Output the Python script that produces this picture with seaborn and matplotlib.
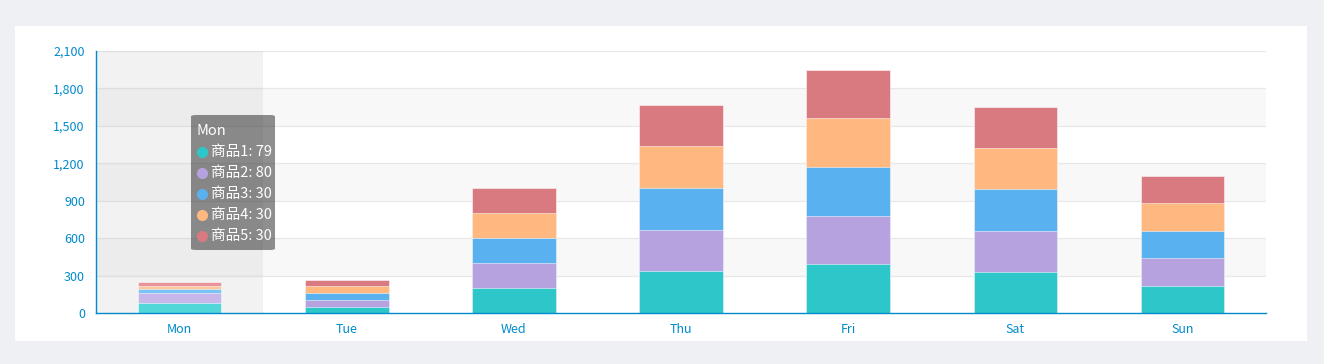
import numpy as np
import pandas as pd
import matplotlib
matplotlib.use("Agg")
import matplotlib.pyplot as plt
from matplotlib.patches import FancyBboxPatch, Rectangle
from matplotlib.lines import Line2D
from matplotlib.ticker import FuncFormatter
import seaborn as sns

# ---- data ----
days = ["Mon", "Tue", "Wed", "Thu", "Fri", "Sat", "Sun"]
series_names = ["商品1", "商品2", "商品3", "商品4", "商品5"]
s1 = [79, 52, 200, 334, 390, 330, 220]
s2 = [80, 54, 200, 334, 390, 330, 220]
s3 = [30, 54, 200, 334, 390, 330, 220]
s4 = [30, 53, 200, 334, 390, 330, 220]
s5 = [30, 49, 200, 334, 390, 330, 220]
y_ticks = [0, 300, 600, 900, 1200, 1500, 1800, 2100]

colors = ["#2ec7c9", "#b6a2de", "#5ab1ef", "#ffb980", "#d87a80"]
hi_colors = ["#52d7d9", "#c7b7ea", "#7ac3f4", "#fcc79a", "#e8949a"]
axis_blue = "#008acd"

sns.set_theme(style="white")
plt.rcParams["font.family"] = ["Noto Sans CJK SC", "DejaVu Sans"]

W, H = 1324, 364
fig = plt.figure(figsize=(W / 100, H / 100), dpi=100)
fig.patch.set_facecolor("#eef0f4")

def fx(px):
    return px / W

def fy(py):
    return 1 - py / H

# white card
fig.add_artist(Rectangle((fx(15), fy(341)), fx(1307) - fx(15), fy(26) - fy(341),
                         transform=fig.transFigure, facecolor="white", edgecolor="none", zorder=0))

ax = fig.add_axes([fx(96), fy(313), fx(1266) - fx(96), fy(51) - fy(313)])
ax.set_facecolor("none")

# split area bands
for lo, hi in [(300, 600), (900, 1200), (1500, 1800)]:
    ax.axhspan(lo, hi, color="#f8f8f8", zorder=0, lw=0)
# grid lines
for t in y_ticks[1:]:
    ax.axhline(t, color="#e8e8e8", lw=0.9, zorder=0.5)

# hover shadow band over Mon
ax.axvspan(-0.5, 0.5, color="#969696", alpha=0.12, lw=0, zorder=0.6)

data = [s1, s2, s3, s4, s5]
cum = np.cumsum(np.array(data), axis=0)

order = list(reversed(range(len(data))))
for i in order:
    df = pd.DataFrame({"day": days, "value": cum[i]})
    sns.barplot(data=df, x="day", y="value", color=colors[i], saturation=1,
                width=0.5, ax=ax, edgecolor=(1, 1, 1, 0.6), linewidth=0.6, zorder=2)

# highlight Mon bar (emphasis)
for container, i in zip(ax.containers, order):
    container.patches[0].set_facecolor(hi_colors[i])

n = len(days)
ax.set_xlim(-0.5, n - 0.5)
ax.set_ylim(0, 2100)
ax.set_yticks(y_ticks)
ax.yaxis.set_major_formatter(FuncFormatter(lambda v, p: f"{int(v):,}"))
ax.set_xlabel("")
ax.set_ylabel("")
for sp in ["top", "right"]:
    ax.spines[sp].set_visible(False)
for sp in ["left", "bottom"]:
    ax.spines[sp].set_color(axis_blue)
    ax.spines[sp].set_linewidth(1.0)
ax.tick_params(axis="y", length=0, pad=8, labelcolor=axis_blue, labelsize=9)
ax.tick_params(axis="x", length=4, width=1, color=axis_blue, pad=3, labelcolor=axis_blue, labelsize=9)

# tooltip
fig.add_artist(FancyBboxPatch((fx(191), fy(250)), fx(275) - fx(191), fy(115) - fy(250),
                              boxstyle="round,pad=0,rounding_size=0.004",
                              transform=fig.transFigure, facecolor=(0.2, 0.2, 0.2, 0.55),
                              edgecolor="none", zorder=10))
fig.text(fx(197), fy(131), "Mon", color="white", fontsize=10.5, va="center", ha="left", zorder=11)
for i, name in enumerate(series_names):
    yy = 152 + 21 * i
    fig.add_artist(Line2D([fx(202)], [fy(yy)], marker="o", markersize=7, color=colors[i],
                          transform=fig.transFigure, zorder=11))
    fig.text(fx(211), fy(yy), f"{name}: {data[i][0]}", color="white", fontsize=10.5,
             va="center", ha="left", zorder=11)

fig.savefig("out.png", dpi=100, facecolor=fig.get_facecolor())
